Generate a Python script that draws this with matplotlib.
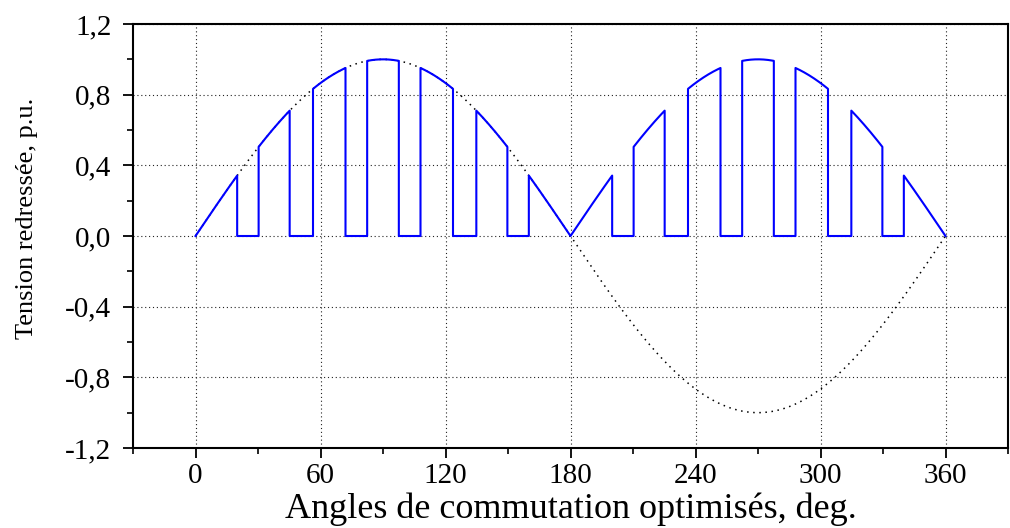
import numpy as np
import matplotlib
matplotlib.use('Agg')
import matplotlib.pyplot as plt
from matplotlib.ticker import MultipleLocator

# switching angles (deg), first quarter wave
alpha = [20.0, 30.3, 45.2, 56.4, 72.0, 82.4]
period = 180.0
x_ticks = [0, 60, 120, 180, 240, 300, 360]
y_ticks = [-1.2, -0.8, -0.4, 0.0, 0.4, 0.8, 1.2]
y_labels = ['-1,2', '-0,8', '-0,4', '0,0', '0,4', '0,8', '1,2']

# all edges in one half period (symmetric about 90 deg)
edges = alpha + [period - a for a in alpha[::-1]]
bounds = [0.0] + edges + [period]

# build the chopped rectified wave
xb, yb = [], []
for k in range(2):
    off = k * period
    for i in range(len(bounds) - 1):
        a, b = bounds[i] + off, bounds[i + 1] + off
        if i % 2 == 0:
            t = np.linspace(a, b, 60)
            xb += [a] + list(t) + [b]
            yb += [0.0] + list(np.abs(np.sin(np.radians(t)))) + [0.0]
        else:
            xb += [a, b]
            yb += [0.0, 0.0]

xs = np.linspace(0, 360, 721)
ys = np.sin(np.radians(xs))

plt.rcParams['font.family'] = ['Liberation Serif', 'DejaVu Serif']

fig = plt.figure(figsize=(10.1, 5.28), dpi=100)
ax = fig.add_axes([133/1010, 1 - 448/528, (1008 - 133)/1010, (448 - 24)/528])

ax.plot(xs, ys, color='black', lw=1.1, linestyle=(0, (1, 3)))
ax.plot(xb, yb, color='#0000ff', lw=1.5)

ax.set_xlim(-30, 390)
ax.set_ylim(-1.2, 1.2)
ax.set_xticks(x_ticks)
ax.set_yticks(y_ticks)
ax.set_yticklabels(y_labels)
ax.xaxis.set_minor_locator(MultipleLocator(30))
ax.yaxis.set_minor_locator(MultipleLocator(0.2))
ax.tick_params(which='major', direction='out', length=7, width=1.3, labelsize=21)
ax.tick_params(axis='x', which='major', pad=4)
ax.tick_params(axis='y', which='major', pad=8.5)
ax.tick_params(which='minor', direction='out', length=4, width=1.2)
ax.grid(True, which='major', color='#222222', linestyle=(0, (1, 2.5)), lw=0.8)

for s in ax.spines.values():
    s.set_linewidth(1.5)

ax.set_xlabel('Angles de commutation optimisés, deg.', fontsize=26, labelpad=2)
ax.set_ylabel('Tension redressée, p.u.', fontsize=19)
ax.yaxis.set_label_coords((38 - 133) / 875, (448 - 218) / 424)

fig.savefig('out.png', dpi=100)
